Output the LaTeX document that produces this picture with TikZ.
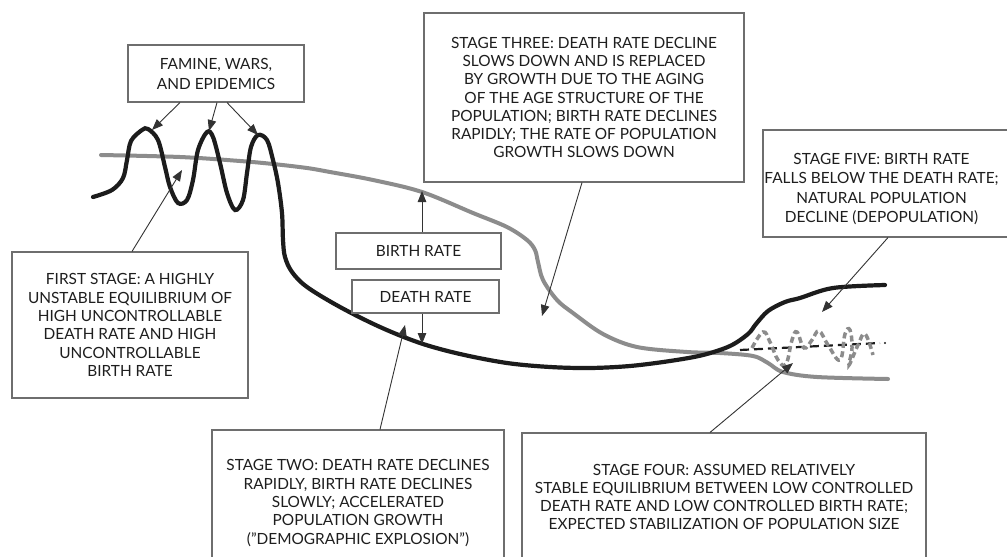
\documentclass[tikz,border=0pt]{standalone}
\usepackage{fontspec}
\setmainfont{Lato}
\usetikzlibrary{arrows.meta}
\definecolor{boxc}{HTML}{6E6E6E}
\definecolor{txtc}{HTML}{1E1E1E}
\definecolor{darkc}{HTML}{1C1C1C}
\definecolor{grayc}{HTML}{8C8C8C}
\definecolor{arrc}{HTML}{333333}
\tikzset{
  box/.style={draw=boxc, line width=1.1pt, fill=white, align=center, text=txtc,
    font=\fontsize{15.4}{18.3}\selectfont, inner sep=0pt},
  txt/.style={align=center, text=txtc, font=\fontsize{15.4}{19.3}\selectfont, inner sep=0pt},
  conn/.style={draw=arrc, line width=0.9pt, -{Triangle[length=11pt,width=8.5pt]}},
  death/.style={draw=darkc, line width=4.2pt, line cap=round},
  birth/.style={draw=grayc, line width=4pt, line cap=round},
}
\begin{document}
\begin{tikzpicture}[x=1pt,y=-1pt]
\useasboundingbox[fill=white] (0,0) rectangle (1007,557);

% curves
\draw[birth] plot[smooth, tension=0.55] coordinates {
 (101,155) (180,157) (240,161) (273,164) (307,168) (330,172) (373,180) (422,192)
 (473,213) (507,227) (527,240) (535,250) (538,262) (543,280) (557,300) (573,313)
 (603,334) (637,347) (687,352) (720,353) (753,356) (768,363) (783,372) (817,377) (888,379)};

\draw[death] plot[smooth, tension=0.55] coordinates {
 (93,197) (112,190) (123,178) (127,160) (131,141) (142,130) (148,129) (158,140)
 (165,167) (170,187) (178,203) (187,200) (193,180) (198,150) (207,132) (213,137)
 (220,163) (227,193) (235,210) (243,200) (247,173) (251,147) (258,135) (267,140)
 (273,160) (278,183) (282,213) (283,240) (285,257) (292,272) (307,287) (340,307)
 (380,327) (420,343) (460,354) (507,363) (550,367) (590,368) (630,366) (670,361)
 (703,355) (730,346) (748,334) (756,324) (768,311) (785,302) (800,298) (833,288) (885,285)};

\draw[draw=darkc, line width=2.2pt, dash pattern=on 9pt off 5pt] (740,350) -- (880,343);
\fill[darkc] (885,343) circle (1.2pt);

\draw[draw=grayc, line width=3.5pt, dash pattern=on 6pt off 3.5pt] plot[smooth, tension=0.7] coordinates {
 (752,348) (763,332) (770,342) (778,360) (786,364) (792,340) (797,332) (804,348)
 (812,340) (819,331) (828,345) (840,360) (845,334) (850,330) (852,348) (849,365)
 (858,345) (865,334) (873,355)};

% boxes
\node[box, minimum width=176pt, minimum height=57pt, font=\fontsize{15.4}{20}\selectfont] (fam) at (216,73.5)
 {FAMINE, WARS,\\AND EPIDEMICS};
\node[box, minimum width=320pt, minimum height=169pt] (s3) at (584,97.5)
 {STAGE THREE: DEATH RATE DECLINE\\SLOWS DOWN AND IS REPLACED\\BY GROWTH DUE TO THE AGING\\OF THE AGE STRUCTURE OF THE\\POPULATION; BIRTH RATE DECLINES\\RAPIDLY; THE RATE OF POPULATION\\GROWTH SLOWS DOWN};
\node[box, minimum width=236pt, minimum height=146pt] (s1) at (130,325)
 {FIRST STAGE: A HIGHLY\\UNSTABLE EQUILIBRIUM OF\\HIGH UNCONTROLLABLE\\DEATH RATE AND HIGH\\UNCONTROLLABLE\\BIRTH RATE};
\node[box, minimum width=165pt, minimum height=36pt] (br) at (418.5,251) {BIRTH RATE};
\node[box, minimum width=147pt, minimum height=33pt] (dr) at (425.5,296.5) {DEATH RATE};
\node[box, minimum width=292pt, minimum height=146pt] (s2) at (358,503)
 {STAGE TWO: DEATH RATE DECLINES\\RAPIDLY, BIRTH RATE DECLINES\\SLOWLY; ACCELERATED\\POPULATION GROWTH\\(\char34 DEMOGRAPHIC EXPLOSION\char34)};
\node[box, minimum width=404pt, minimum height=128pt] (s4) at (724,497)
 {STAGE FOUR: ASSUMED RELATIVELY\\STABLE EQUILIBRIUM BETWEEN LOW CONTROLLED\\DEATH RATE AND LOW CONTROLLED BIRTH RATE;\\EXPECTED STABILIZATION OF POPULATION SIZE};
\node[box, minimum width=250pt, minimum height=107pt] (s5box) at (888,183.5) {};
\node[txt] (s5) at (881.5,189)
 {STAGE FIVE: BIRTH RATE\\FALLS BELOW THE DEATH RATE;\\NATURAL POPULATION\\DECLINE (DEPOPULATION)};

% arrow targets
\coordinate (p1) at (152,130);
\coordinate (p2) at (209,131);
\coordinate (p3) at (258,135);
\coordinate (q1) at (182,170);
\coordinate (qb) at (422,191);
\coordinate (qd) at (422,344);
\coordinate (q2) at (405,325);
\coordinate (q3) at (542,316);
\coordinate (q4) at (793,363);
\coordinate (q5) at (822,312);

\draw[conn] (fam.south -| 180,0) -- (p1);
\draw[conn] (fam.south -| 217,0) -- (p2);
\draw[conn] (fam.south -| 227,0) -- (p3);
\draw[conn] (s1.north -| 132,0) -- (q1);
\draw[conn] (br.north -| 422,0) -- (qb);
\draw[conn] (dr.south -| 422,0) -- (qd);
\draw[conn] (s2.north -| 380,0) -- (q2);
\draw[conn] (s3.south -| 582,0) -- (q3);
\draw[conn] (s4.north -| 710,0) -- (q4);
\draw[conn] (s5box.south -| 888,0) -- (q5);
\end{tikzpicture}
\end{document}
